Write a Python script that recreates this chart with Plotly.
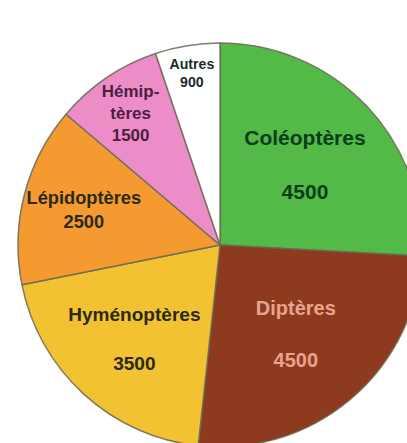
import plotly.graph_objects as go

categories = ["Coléoptères", "Diptères", "Hyménoptères", "Lépidoptères", "Hémiptères", "Autres"]
values = [4500, 4500, 3500, 2500, 1500, 900]
label_text = ["Coléoptères<br><br>4500", "Diptères<br><br>4500", "Hyménoptères<br><br>3500",
              "Lépidoptères<br>2500", "Hémip-<br>tères<br>1500", "Autres<br>900"]
colors = ["#53B947", "#8E3A1E", "#F2C232", "#F59A30", "#EC8DC8", "#FFFFFF"]
text_colors = ["#0B3D1A", "#E8A48E", "#2A2A14", "#2A2A14", "#4A2040", "#1A2A30"]
text_sizes = [21, 20, 21, 20, 17, 18]

W, H = 440, 460
cx, cy, R = 220, 245, 202

fig = go.Figure(go.Pie(
    labels=categories,
    values=values,
    text=label_text,
    textinfo="text",
    textposition="inside",
    insidetextorientation="horizontal",
    sort=False,
    direction="clockwise",
    rotation=0,
    marker=dict(colors=colors, line=dict(color="rgba(105,105,85,0.85)", width=1.5)),
    insidetextfont=dict(family="Liberation Sans, Arial, sans-serif", size=text_sizes,
                        color=text_colors, weight="bold"),
    domain=dict(x=[(cx - R) / W, (cx + R) / W], y=[1 - (cy + R) / H, 1 - (cy - R) / H]),
    hoverinfo="label+value",
))

fig.update_layout(
    width=W, height=H,
    margin=dict(l=0, r=0, t=0, b=0),
    showlegend=False,
    paper_bgcolor="white",
    plot_bgcolor="white",
)

fig.write_html("out.html", config={"displayModeBar": False},
               post_script="document.body.style.margin='0';document.body.style.overflow='hidden';")
